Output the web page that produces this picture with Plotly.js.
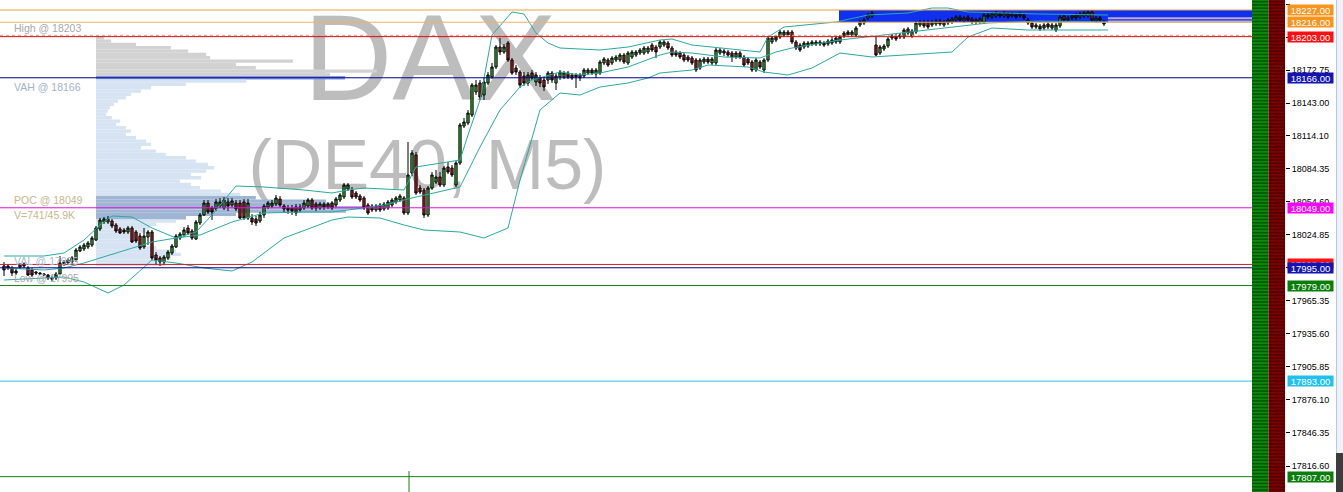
<!DOCTYPE html>
<html><head><meta charset="utf-8">
<script src="https://cdn.plot.ly/plotly-3.0.1.min.js"></script>
<style>html,body{margin:0;padding:0;background:#fff;}#chart{width:1343px;height:492px;}</style>
</head><body><div id="chart"></div>
<script>
// ---------- DATA ----------
const openP = [
17996.6,17996.6,17994.8,17990.3,17995.7,17998.4,17994.8,17993.0,17991.2,17990.3,
17989.4,17988.5,17985.8,17985.8,17989.4,17998.4,17999.3,18000.2,18002.0,18010.1,
18011.9,18013.7,18015.5,18020.0,18029.9,18036.2,18036.2,18037.1,18033.5,18029.9,
18029.0,18027.2,18030.8,18027.2,18023.6,18013.7,18022.7,18027.2,18006.5,18003.8,
18000.2,18003.8,18008.3,18013.7,18021.8,18024.5,18030.8,18028.1,18020.9,18035.3,
18042.5,18053.3,18048.8,18047.9,18050.6,18048.8,18054.2,18051.5,18053.3,18053.3,
18054.2,18039.8,18039.8,18038.9,18037.1,18042.5,18049.7,18050.6,18052.4,18056.9,
18050.6,18048.8,18048.8,18049.7,18047.0,18048.8,18050.6,18056.0,18052.4,18048.8,
18052.4,18049.7,18053.3,18051.5,18056.0,18058.7,18065.9,18065.0,18062.3,18059.6,
18057.8,18051.5,18050.6,18047.0,18051.5,18047.9,18048.8,18051.5,18054.2,18056.0,
18057.8,18044.3,18080.3,18096.5,18066.8,18065.0,18042.5,18066.8,18072.2,18076.7,
18069.5,18085.7,18084.8,18069.5,18089.3,18122.6,18125.3,18132.5,18153.2,18161.3,
18150.5,18161.3,18166.7,18175.7,18193.7,18189.2,18197.3,18182.0,18174.8,18171.2,
18167.6,18161.3,18170.3,18162.2,18165.8,18164.0,18164.0,18170.3,18161.3,18166.7,
18166.7,18170.3,18168.5,18168.5,18168.5,18167.6,18170.3,18173.0,18169.4,18170.3,
18179.3,18182.0,18179.3,18182.0,18182.0,18186.5,18179.3,18184.7,18186.5,18188.3,
18188.3,18189.2,18195.5,18193.7,18193.7,18195.5,18197.3,18192.8,18189.2,18188.3,
18186.5,18184.7,18183.8,18182.0,18174.8,18180.2,18182.9,18179.3,18179.3,18188.3,
18190.1,18189.2,18188.3,18184.7,18188.3,18184.7,18182.9,18180.2,18173.0,18180.2,
18173.0,18182.0,18198.2,18200.0,18202.7,18204.5,18207.2,18207.2,18198.2,18195.5,
18193.7,18194.6,18196.4,18198.2,18196.4,18197.3,18196.4,18197.3,18198.2,18198.2,
18203.6,18207.2,18204.5,18204.5,18213.5,18215.3,18219.8,18221.6,18195.5,18188.3,
18191.9,18194.6,18201.8,18203.6,18202.7,18202.7,18209.9,18203.6,18207.2,18213.5,
18216.2,18216.2,18213.5,18214.4,18217.1,18213.5,18218.0,18216.2,18218.0,18220.7,
18217.1,18220.7,18218.9,18216.2,18216.2,18216.2,18222.5,18220.7,18221.6,18223.4,
18221.6,18223.4,18221.6,18222.5,18221.6,18222.5,18218.0,18215.3,18211.7,18212.6,
18210.8,18214.4,18210.8,18209.0,18212.6,18221.6,18218.0,18219.8,18222.5,18220.7,
18221.6,18221.6,18225.2,18217.1,18219.8,18216.2];
const highP = [
18000.2,17998.4,17996.6,17994.8,17999.3,18000.2,17996.6,17994.8,17992.1,17991.2,
17990.3,17989.4,17987.6,17991.2,18005.6,18002.0,18003.8,18005.6,18012.8,18015.5,
18017.3,18019.1,18023.6,18032.6,18039.8,18040.7,18041.6,18038.9,18035.3,18031.7,
18030.8,18032.6,18032.6,18029.0,18026.3,18030.8,18029.0,18029.0,18009.2,18005.6,
18006.5,18011.0,18016.4,18025.4,18027.2,18031.7,18033.5,18029.9,18038.0,18044.3,
18056.0,18056.0,18050.6,18056.9,18057.8,18058.7,18057.8,18057.8,18056.0,18056.0,
18056.9,18056.9,18043.4,18041.6,18045.2,18052.4,18055.1,18056.0,18060.5,18059.6,
18052.4,18051.5,18051.5,18052.4,18052.4,18056.0,18057.8,18057.8,18054.2,18054.2,
18054.2,18054.2,18055.1,18058.7,18062.3,18071.3,18071.3,18067.7,18064.1,18061.4,
18059.6,18053.3,18052.4,18052.4,18053.3,18054.2,18056.0,18057.8,18059.6,18061.4,
18059.6,18108.2,18101.0,18099.2,18069.5,18066.8,18068.6,18081.2,18083.0,18081.2,
18086.6,18090.2,18087.5,18091.1,18125.3,18129.8,18137.0,18161.3,18164.0,18164.0,
18165.8,18171.2,18179.3,18195.5,18201.8,18196.4,18199.1,18183.8,18177.5,18173.0,
18171.2,18171.2,18173.0,18171.2,18168.5,18166.7,18172.1,18172.1,18170.3,18173.0,
18172.1,18172.1,18170.3,18170.3,18170.3,18174.8,18174.8,18174.8,18174.8,18182.0,
18184.7,18183.8,18185.6,18186.5,18188.3,18188.3,18190.1,18191.0,18191.0,18192.8,
18194.6,18194.6,18197.3,18195.5,18200.0,18200.0,18199.1,18194.6,18191.0,18190.1,
18188.3,18186.5,18185.6,18183.8,18183.8,18184.7,18184.7,18184.7,18192.8,18192.8,
18191.9,18191.0,18190.1,18190.1,18190.1,18186.5,18184.7,18182.0,18183.8,18182.0,
18183.8,18203.6,18203.6,18204.5,18209.0,18209.0,18209.0,18209.0,18200.0,18197.3,
18199.1,18199.1,18200.0,18200.0,18200.0,18199.1,18200.9,18202.7,18203.6,18204.5,
18208.1,18209.0,18209.0,18212.6,18218.0,18219.8,18224.3,18226.1,18203.6,18195.5,
18196.4,18202.7,18205.4,18205.4,18206.3,18210.8,18211.7,18209.9,18217.1,18218.0,
18218.0,18218.0,18218.0,18218.9,18218.9,18218.0,18219.8,18220.7,18222.5,18222.5,
18221.6,18222.5,18220.7,18219.8,18220.7,18224.3,18224.3,18225.2,18226.1,18225.2,
18226.1,18225.2,18225.2,18224.3,18225.2,18224.3,18219.8,18217.1,18215.3,18214.4,
18215.3,18216.2,18215.3,18215.3,18222.5,18223.4,18221.6,18223.4,18224.3,18225.2,
18226.1,18227.0,18227.0,18221.6,18221.6,18218.0];
const lowP = [
17987.6,17993.0,17987.6,17988.5,17993.9,17994.8,17987.6,17986.7,17988.5,17988.5,
17987.6,17984.0,17983.1,17984.0,17988.5,17996.6,17998.4,17998.4,18000.2,18009.2,
18010.1,18011.9,18013.7,18019.1,18028.1,18034.4,18034.4,18030.8,18026.3,18025.4,
18025.4,18025.4,18017.3,18017.3,18011.0,18011.9,18015.5,18002.0,17997.5,17996.6,
17997.5,18002.0,18006.5,18012.8,18020.0,18022.7,18024.5,18020.0,18020.0,18033.5,
18041.6,18043.4,18038.0,18046.1,18048.8,18047.0,18046.1,18049.7,18046.1,18038.9,
18038.0,18038.0,18033.5,18032.6,18035.3,18039.8,18047.9,18048.8,18050.6,18049.7,
18045.2,18043.4,18042.5,18041.6,18045.2,18047.0,18048.8,18047.0,18046.1,18047.0,
18047.0,18047.9,18047.0,18049.7,18054.2,18056.9,18064.1,18056.9,18056.9,18054.2,
18047.0,18042.5,18045.2,18045.2,18045.2,18046.1,18047.0,18049.7,18052.4,18054.2,
18042.5,18042.5,18077.6,18060.5,18061.4,18039.8,18040.7,18065.0,18070.4,18067.7,
18067.7,18079.4,18076.7,18067.7,18087.5,18120.8,18123.5,18130.7,18150.5,18146.0,
18146.0,18159.5,18164.9,18173.9,18186.5,18187.4,18180.2,18168.5,18168.5,18156.8,
18158.6,18158.6,18164.0,18158.6,18157.7,18154.1,18160.4,18161.3,18155.0,18164.0,
18164.9,18164.9,18164.0,18156.8,18163.1,18165.8,18168.5,18168.5,18165.8,18168.5,
18177.5,18175.7,18177.5,18180.2,18180.2,18178.4,18177.5,18182.9,18184.7,18186.5,
18186.5,18187.4,18189.2,18183.8,18191.9,18193.7,18191.0,18184.7,18184.7,18182.9,
18180.2,18180.2,18177.5,18171.2,18173.0,18178.4,18178.4,18177.5,18177.5,18186.5,
18185.6,18184.7,18180.2,18182.9,18182.9,18175.7,18177.5,18171.2,18171.2,18173.9,
18170.3,18180.2,18196.4,18198.2,18200.9,18202.7,18202.7,18196.4,18191.0,18189.2,
18191.9,18192.8,18194.6,18194.6,18194.6,18193.7,18194.6,18195.5,18196.4,18196.4,
18201.8,18202.7,18202.7,18202.7,18211.7,18213.5,18218.0,18219.8,18185.6,18186.5,
18190.1,18192.8,18200.0,18199.1,18200.9,18200.9,18204.5,18201.8,18205.4,18211.7,
18210.8,18209.9,18211.7,18212.6,18212.6,18211.7,18213.5,18214.4,18216.2,18216.2,
18215.3,18216.2,18214.4,18214.4,18214.4,18214.4,18218.9,18218.9,18219.8,18219.8,
18219.8,18218.9,18219.8,18218.9,18219.8,18218.0,18213.5,18209.9,18209.9,18208.1,
18209.0,18209.9,18209.0,18207.2,18210.8,18216.2,18216.2,18218.0,18218.0,18218.9,
18219.8,18219.8,18216.2,18215.3,18216.2,18212.6];
const closeP = [
17993.0,17994.8,17990.3,17992.1,17997.5,17996.6,17988.5,17988.5,17990.3,17989.4,
17988.5,17985.8,17984.9,17989.4,17999.3,18000.2,18002.0,18003.8,18011.0,18013.7,
18015.5,18017.3,18021.8,18030.8,18038.0,18038.9,18038.9,18032.6,18028.1,18026.3,
18027.2,18030.8,18018.2,18019.1,18012.8,18023.6,18027.2,18003.8,18002.0,18000.2,
18004.7,18009.2,18014.6,18023.6,18025.4,18029.0,18026.3,18021.8,18036.2,18042.5,
18053.3,18045.2,18045.2,18054.2,18054.2,18056.0,18050.6,18055.1,18047.9,18039.8,
18039.8,18053.3,18036.2,18035.3,18042.5,18050.6,18053.3,18053.3,18057.8,18051.5,
18047.9,18047.0,18046.1,18044.3,18049.7,18053.3,18056.0,18048.8,18048.8,18052.4,
18049.7,18052.4,18048.8,18056.9,18060.5,18069.5,18069.5,18058.7,18058.7,18056.0,
18048.8,18044.3,18047.0,18050.6,18047.0,18052.4,18054.2,18056.0,18057.8,18059.6,
18044.3,18078.5,18098.3,18062.3,18063.2,18042.5,18066.8,18078.5,18076.7,18069.5,
18084.8,18081.2,18078.5,18089.3,18123.5,18126.2,18134.3,18159.5,18159.5,18148.7,
18162.2,18168.5,18175.7,18193.7,18189.2,18193.7,18182.0,18170.3,18171.2,18159.5,
18161.3,18168.5,18165.8,18168.5,18161.3,18157.7,18170.3,18164.0,18167.6,18171.2,
18170.3,18166.7,18165.8,18166.7,18165.8,18173.0,18173.0,18170.3,18173.0,18180.2,
18182.9,18177.5,18183.8,18184.7,18186.5,18180.2,18188.3,18189.2,18189.2,18191.0,
18192.8,18192.8,18191.0,18189.2,18198.2,18198.2,18192.8,18186.5,18186.5,18184.7,
18182.0,18182.0,18179.3,18173.0,18182.0,18182.9,18180.2,18182.9,18191.0,18191.0,
18188.3,18186.5,18184.7,18188.3,18184.7,18177.5,18179.3,18173.0,18182.0,18175.7,
18182.0,18201.8,18201.8,18202.7,18207.2,18207.2,18204.5,18198.2,18192.8,18191.0,
18197.3,18197.3,18198.2,18196.4,18198.2,18195.5,18199.1,18200.0,18201.8,18202.7,
18206.3,18204.5,18207.2,18210.8,18216.2,18218.0,18222.5,18224.3,18186.5,18193.7,
18194.6,18200.9,18203.6,18200.9,18204.5,18209.0,18206.3,18208.1,18215.3,18216.2,
18212.6,18211.7,18216.2,18217.1,18214.4,18216.2,18215.3,18218.9,18220.7,18218.0,
18219.8,18218.0,18216.2,18218.0,18218.9,18222.5,18220.7,18223.4,18224.3,18221.6,
18224.3,18220.7,18223.4,18220.7,18223.4,18219.8,18215.3,18211.7,18213.5,18209.9,
18213.5,18211.7,18213.5,18213.5,18220.7,18218.0,18219.8,18221.6,18219.8,18223.4,
18224.3,18225.2,18218.0,18219.8,18218.0,18214.4];

// Bollinger bands (read at sample bars)
const upperIdx = [0,10,15,20,24,27,32,37,43,48,52,58,65,75,82,86,90,100,103,114,116,119,122,127,130,133,136,139,149,156,164,167,172,180,189,191,195,208,216,226,232,236,241,259,276];
const upperVal = [18005.6,18005.6,18008.3,18020.0,18033.5,18041.6,18040.7,18030.8,18021.8,18027.2,18042.5,18068.6,18067.7,18065.0,18062.3,18065.0,18066.8,18065.0,18085.7,18092.0,18114.5,18146.0,18204.5,18225.2,18223.4,18206.3,18197.3,18192.8,18191.0,18193.7,18200.0,18200.9,18195.5,18192.8,18189.2,18202.7,18211.7,18216.2,18222.5,18224.3,18228.8,18228.8,18225.2,18223.4,18222.5];
const midIdx = [0,10,15,20,24,32,37,43,49,57,65,75,82,86,95,100,103,114,119,124,129,132,139,144,149,156,164,167,172,180,189,193,197,209,226,234,246,259,276];
const midVal = [17994.8,17993.0,17994.8,17999.3,18003.8,18012.8,18018.2,18021.8,18024.5,18036.2,18044.3,18045.2,18045.2,18047.0,18051.5,18056.0,18058.7,18067.7,18103.7,18137.0,18157.7,18164.0,18171.2,18168.5,18170.3,18175.7,18186.5,18189.2,18188.3,18184.7,18183.8,18189.2,18192.8,18200.0,18207.2,18210.8,18215.3,18217.1,18216.2];
const lowerIdx = [0,15,20,26,30,37,43,50,57,62,70,82,86,94,100,105,114,120,126,129,134,139,144,149,156,161,164,172,176,186,190,196,202,209,217,237,241,247,256,276];
const lowerVal = [17984.0,17986.7,17982.2,17972.3,17979.5,18002.0,17999.3,17994.8,17992.1,18000.2,18021.8,18038.0,18040.7,18039.8,18033.5,18029.0,18027.2,18021.8,18030.8,18074.0,18137.0,18152.3,18150.5,18157.7,18161.3,18165.8,18170.3,18173.0,18177.5,18175.7,18171.2,18168.5,18174.8,18188.3,18184.7,18189.2,18202.7,18210.8,18209.0,18209.0];

// Volume profile
const profilePrice = [18202,18199,18196,18193,18190,18187,18184,18181,18178,18175,18172,18169,18166,18163,18160,18157,18154,18151,18148,18145,18142,18139,18136,18133,18130,18127,18124,18121,18118,18115,18112,18109,18106,18103,18100,18097,18094,18091,18088,18085,18082,18079,18076,18073,18070,18067,18064,18061,18058,18055,18052,18049,18046,18043,18040,18037,18034,18031,18028,18025,18022,18019,18016,18013,18010,18007,18004,18001,17998];
const profileVol = [22,42,111,208,256,306,317,547,389,444,780,650,692,417,250,153,125,97,83,61,50,39,33,28,44,67,56,83,97,83,111,139,153,125,167,194,250,278,311,328,306,264,292,233,264,289,347,400,444,639,667,741,694,389,250,222,167,150,139,122,125,117,128,167,222,236,208,167,194];

// Price levels & labels
const levelPrices = [18227, 18216, 18203, 18166, 18049, 17998, 17995, 17979, 17893, 17807];
const levelText = ['18227.00','18216.00','18203.00','18166.00','18049.00','17998.00','17995.00','17979.00','17893.00','17807.00'];
const tickVals = [18232.25,18202.50,18172.75,18143.00,18114.10,18084.35,18054.60,18024.85,17995.10,17965.35,17935.60,17905.85,17876.10,17846.35,17816.60];
const tickText = ['18232.25','18202.50','18172.75','18143.00','18114.10','18084.35','18054.60','18024.85','17995.10','17965.35','17935.60','17905.85','17876.10','17846.35','17816.60'];
const leftLabels = ['High @ 18203','VAH @ 18166','POC @ 18049','V=741/45.9K','VAL @ 17995','Low @ 17995'];
const VAH = 18166, VAL = 17998, POC = 18049;
const zoneTop = 18227, zoneBottom = 18216, zoneStartBar = 208.75, zoneSplitBar = 276;
const markerBar = 101.25;

// ---------- STYLE ----------
const W = 1343, H = 492;
const PR = 1252 / W;         // right edge of price area
const AX = 1285 / W;         // price axis position
const FONT = 'Liberation Sans, Arial, sans-serif';
const levelStyle = [
  {c:'#f0a040', bg:'#f7941d'}, {c:'#f2b060', bg:'#f7941d'}, {c:'#cc1010', bg:'#ff1010'},
  {c:'#000090', bg:'#1414b4'}, {c:'#e010e0', bg:'#ff00ff'}, {c:'#d02020', bg:'#ff1010'},
  {c:'#00008b', bg:'#1414b4'}, {c:'#108010', bg:'#0b7d0b'}, {c:'#30c4e8', bg:'#20c0f0'},
  {c:'#108010', bg:'#0b7d0b'}
];
const leftStyle = [
  {y:28, c:'#a8a8a8'}, {y:87, c:'#a4b2c8'}, {y:200, c:'#c8b68e'}, {y:215, c:'#c8b68e'},
  {y:261, c:'#a8b8d0'}, {y:278, c:'#a8a8a8'}
];

const idx = openP.map((_, i) => i);
const profColors = profilePrice.map(p => {
  if (p > VAH) return '#d2d2d2';
  if (p === VAH) return '#7f9be0';
  if (p < VAL) return '#f3c8c8';
  if (Math.abs(p - POC) <= 9) return '#9fb5d3';
  return '#d6e3f2';
});

const traces = [
  {type:'bar', orientation:'h', x:profileVol, y:profilePrice, base:0, width:3,
   xaxis:'x', yaxis:'y', marker:{color:profColors, line:{width:0}}, hoverinfo:'skip'},
  {type:'candlestick', x:idx, open:openP, high:highP, low:lowP, close:closeP,
   xaxis:'x2', yaxis:'y', whiskerwidth:0,
   increasing:{line:{color:'#000000', width:1}, fillcolor:'#3cb43c'},
   decreasing:{line:{color:'#000000', width:1}, fillcolor:'#b41e1e'}, hoverinfo:'skip'},
  {type:'scatter', mode:'lines', x:upperIdx, y:upperVal, xaxis:'x2', yaxis:'y', line:{color:'#2aa9a4', width:1}, hoverinfo:'skip'},
  {type:'scatter', mode:'lines', x:midIdx, y:midVal, xaxis:'x2', yaxis:'y', line:{color:'#2aa9a4', width:1}, hoverinfo:'skip'},
  {type:'scatter', mode:'lines', x:lowerIdx, y:lowerVal, xaxis:'x2', yaxis:'y', line:{color:'#2aa9a4', width:1}, hoverinfo:'skip'},
  {type:'bar', x:[0], y:[1], width:1, xaxis:'x3', yaxis:'y3', hoverinfo:'skip',
   marker:{color:'#0b800b', line:{width:0}, pattern:{shape:'-', fgcolor:'#005400', bgcolor:'#0c8a0c', size:3.3, solidity:0.45}}},
  {type:'bar', x:[1], y:[1], width:1, xaxis:'x3', yaxis:'y3', hoverinfo:'skip',
   marker:{color:'#7a0000', line:{width:0}, pattern:{shape:'-', fgcolor:'#520000', bgcolor:'#7c0000', size:3.3, solidity:0.45}}}
];

const shapes = [];
// watermark (below traces)
shapes.push({type:'rect', xref:'paper', yref:'paper', x0:300/W, x1:560/W, y0:1-90/H, y1:1-0/H,
  line:{width:0}, fillcolor:'rgba(0,0,0,0)', layer:'below',
  label:{text:'DAX', textposition:'middle center', font:{size:123, color:'#bdbdbd', family:FONT}}});
shapes.push({type:'rect', xref:'paper', yref:'paper', x0:240/W, x1:615/W, y0:1-190/H, y1:1-126/H,
  line:{width:0}, fillcolor:'rgba(0,0,0,0)', layer:'below',
  label:{text:'(DE40, M5)', textposition:'middle center', font:{size:70, color:'#bdbdbd', family:FONT}}});
// zone box
shapes.push({type:'rect', xref:'x2', yref:'y', x0:zoneStartBar, x1:312, y0:zoneBottom, y1:zoneTop,
  line:{width:0}, fillcolor:'#1030f0', layer:'below'});
shapes.push({type:'rect', xref:'x2', yref:'y', x0:zoneSplitBar, x1:312, y0:18218.6, y1:18220.4,
  line:{width:0}, fillcolor:'#c8a6d2', layer:'below'});
shapes.push({type:'rect', xref:'x2', yref:'y', x0:zoneSplitBar, x1:312, y0:18216, y1:18217.6,
  line:{width:0}, fillcolor:'#a9b4d8', layer:'below'});
// level lines
levelPrices.forEach((p, k) => {
  shapes.push({type:'line', xref:'paper', yref:'y', x0:0, x1:PR, y0:p, y1:p,
    line:{color:levelStyle[k].c, width:1}, layer:'above'});
});
shapes.push({type:'line', xref:'paper', yref:'y', x0:0, x1:PR, y0:18204.2, y1:18204.2,
  line:{color:'#ff8c8c', width:1, dash:'dot'}, layer:'above'});
// vertical marker
shapes.push({type:'line', xref:'x2', yref:'y', x0:markerBar, x1:markerBar, y0:17812, y1:17780,
  line:{color:'#108010', width:1}, layer:'above'});
// right border
shapes.push({type:'rect', xref:'paper', yref:'paper', x0:1336/W, x1:1, y0:0, y1:1,
  line:{width:0}, fillcolor:'#eef2f8', layer:'above'});
shapes.push({type:'line', xref:'paper', yref:'paper', x0:1336.5/W, x1:1336.5/W, y0:0, y1:1,
  line:{color:'#b8c8e0', width:1}, layer:'above'});
shapes.push({type:'rect', xref:'paper', yref:'paper', x0:1336/W, x1:1, y0:0, y1:1-453/H,
  line:{width:0}, fillcolor:'#3c3c3c', layer:'above'});

const annotations = [];
levelPrices.forEach((p, k) => {
  annotations.push({xref:'paper', yref:'y', x:1287/W, y:p, xanchor:'left', yanchor:'middle',
    text:levelText[k], showarrow:false, bgcolor:levelStyle[k].bg, width:45, height:10, borderpad:0,
    font:{color:'#ffffff', size:9.5, family:FONT}});
});
leftLabels.forEach((t, k) => {
  annotations.push({xref:'paper', yref:'paper', x:12/W, y:1-leftStyle[k].y/H, xanchor:'left', yanchor:'middle',
    text:t, showarrow:false, font:{color:leftStyle[k].c, size:10.5, family:FONT}});
});

const layout = {
  width:W, height:H, margin:{l:0, r:0, t:0, b:0},
  paper_bgcolor:'#ffffff', plot_bgcolor:'#ffffff', showlegend:false,
  barmode:'overlay', boxgap:0.2,
  xaxis:{domain:[0, PR], range:[-266.7, 3211.1], visible:false, fixedrange:true},
  xaxis2:{overlaying:'x', range:[-1, 312], visible:false, fixedrange:true, rangeslider:{visible:false}},
  xaxis3:{domain:[PR, AX], range:[-0.5, 1.5], visible:false, anchor:'y3'},
  yaxis:{range:[17793.2, 18236], side:'right', anchor:'free', position:AX,
    ticks:'outside', ticklen:4, tickcolor:'#000', tickvals:tickVals, ticktext:tickText,
    tickfont:{size:9, color:'#000', family:FONT}, showgrid:false, zeroline:false, showline:false, fixedrange:true},
  yaxis3:{domain:[0,1], range:[0,1], visible:false, anchor:'x3'},
  shapes:shapes, annotations:annotations
};
Plotly.newPlot('chart', traces, layout, {displayModeBar:false, staticPlot:true});
</script></body></html>
